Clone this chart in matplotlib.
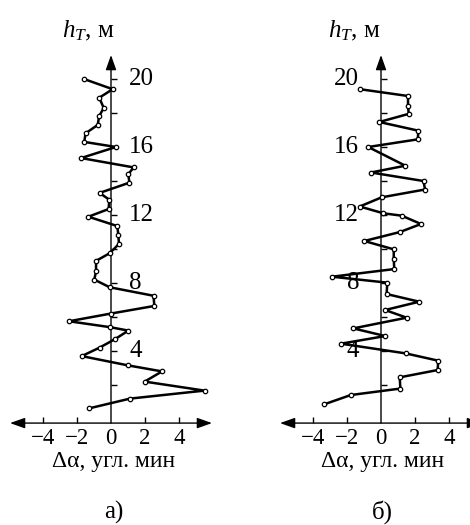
import matplotlib
matplotlib.use("Agg")
import matplotlib.pyplot as plt
from matplotlib.transforms import offset_copy

plt.rcParams['font.family'] = ['Liberation Serif', 'DejaVu Serif']
plt.rcParams['mathtext.fontset'] = 'custom'
plt.rcParams['mathtext.it'] = 'Liberation Serif:italic'
plt.rcParams['mathtext.rm'] = 'Liberation Serif'

# ---- data: panel a) ----
a_h = [20.0, 19.4, 18.9, 18.3, 17.8, 17.3, 16.8, 16.3, 16.0, 15.35, 14.8, 14.4,
       13.9, 13.3, 12.9, 12.35, 11.9, 11.35, 10.85, 10.3, 9.75, 9.3, 8.7, 8.2,
       7.75, 7.25, 6.65, 6.2, 5.75, 5.4, 5.2, 4.7, 4.2, 3.7, 3.15, 2.8, 2.2,
       1.67, 1.2, 0.63]
a_da = [-1.59, 0.1, -0.69, -0.43, -0.7, -0.78, -1.5, -1.57, 0.29, -1.76, 1.33,
        1.02, 1.08, -0.67, -0.1, -0.14, -1.33, 0.37, 0.43, 0.47, -0.08, -0.88,
        -0.88, -0.98, -0.08, 2.5, 2.55, -0.02, -2.47, -0.04, 1.02, 0.24, -0.67,
        -1.72, 1.02, 3.0, 1.98, 5.5, 1.12, -1.27]

# ---- data: panel б) ----
b_h = [19.4, 19.0, 18.4, 17.95, 17.47, 16.96, 16.45, 16.0, 14.9, 14.5, 14.0,
       13.5, 13.04, 12.5, 12.1, 11.96, 11.47, 11.0, 10.47, 9.98, 9.41, 8.82,
       8.37, 8.02, 7.35, 6.9, 6.41, 5.96, 5.33, 4.88, 4.43, 3.86, 3.43, 2.88,
       2.45, 1.79, 1.41, 0.86]
b_da = [-1.24, 1.59, 1.59, 1.63, -0.1, 2.2, 2.16, -0.75, 1.43, -0.59, 2.5,
        2.59, 0.04, -1.25, 0.14, 1.22, 2.35, 1.12, -0.98, 0.75, 0.75, 0.78,
        -2.88, 0.37, 0.33, 2.25, 0.24, 1.51, -1.63, 0.25, -2.35, 1.45, 3.37,
        3.33, 1.1, 1.14, -1.78, -3.35]

x_ticks = [-4, -2, 2, 4]
x_ticklabels = ['\u22124', '\u22122', '2', '4']
y_minor = [2, 6, 10, 14, 18]
y_major = [4, 8, 12, 16, 20]
y_label = '$h_T$, м'
x_label = 'Δα, угл. мин'
panel_labels = ['а)', 'б)']

W, H = 470, 525
fig = plt.figure(figsize=(W / 100, H / 100), dpi=100)

S = 17.0  # px per unit
XLIM = (-6, 6)
YLIM = (-1, 22)
ax_h_px = (YLIM[1] - YLIM[0]) * S
ax_w_px = (XLIM[1] - XLIM[0]) * S
zero_y_px = 419  # pixel row of y=0 (from top)
bottom_px = zero_y_px + (-YLIM[0]) * S


def make_axes(zero_x_px):
    left_px = zero_x_px - (-XLIM[0]) * S
    ax = fig.add_axes([left_px / W, (H - bottom_px) / H, ax_w_px / W, ax_h_px / H])
    ax.set_xlim(*XLIM)
    ax.set_ylim(*YLIM)
    ax.axis('off')
    ax.patch.set_alpha(0)
    return ax


def draw_panel(ax, da, h, labels_right):
    y0 = -0.24
    lw_ax = 1.0
    # x axis with arrows both ends
    ax.annotate('', xy=(-5.94, y0), xytext=(5.94, y0),
                arrowprops=dict(arrowstyle='<|-|>,head_length=0.9,head_width=0.32',
                                mutation_scale=10, lw=lw_ax, color='black',
                                shrinkA=0, shrinkB=0),
                annotation_clip=False)
    # y axis with arrow at top
    ax.annotate('', xy=(0, 21.41), xytext=(0, y0),
                arrowprops=dict(arrowstyle='-|>,head_length=0.9,head_width=0.32',
                                mutation_scale=10, lw=lw_ax, color='black',
                                shrinkA=0, shrinkB=0),
                annotation_clip=False)
    tl = 6 / S
    for t in x_ticks:
        ax.plot([t, t], [y0, y0 + tl], color='black', lw=lw_ax, solid_capstyle='butt')
    for t in y_minor + y_major:
        ax.plot([0, tl], [t, t], color='black', lw=lw_ax, solid_capstyle='butt')
    # x tick labels
    tr = offset_copy(ax.transData, fig=fig, x=0, y=-5 * 0.72, units='points')
    for t, lab in zip(x_ticks, x_ticklabels):
        ax.text(t, y0, lab, transform=tr, ha='center', va='top', fontsize=16.5)
    ax.text(0, y0, '0', transform=tr, ha='center', va='top', fontsize=16.5)
    # y tick labels
    if labels_right:
        tr2 = offset_copy(ax.transData, fig=fig, x=18 * 0.72, y=0, units='points')
        ha = 'left'
    else:
        tr2 = offset_copy(ax.transData, fig=fig, x=-22 * 0.72, y=0, units='points')
        ha = 'right'
    for t in y_major:
        ax.text(0, t, str(t), transform=tr2, ha=ha, va='center', fontsize=18)
    # data
    ax.plot(da, h, color='black', lw=1.8, marker='o', markersize=3.2,
            markerfacecolor='white', markeredgecolor='black', markeredgewidth=0.9,
            zorder=5, clip_on=False)


axA = make_axes(111)
axB = make_axes(381)
draw_panel(axA, a_da, a_h, labels_right=True)
draw_panel(axB, b_da, b_h, labels_right=False)

# texts in figure pixels
def ftext(x, y, s, **kw):
    fig.text(x / W, 1 - y / H, s, **kw)

ftext(62, 31, y_label, ha='left', va='center', fontsize=18)
ftext(328, 31, y_label, ha='left', va='center', fontsize=18)
ftext(114, 461, x_label, ha='center', va='center', fontsize=17)
ftext(383, 461, x_label, ha='center', va='center', fontsize=17)
ftext(114, 512, panel_labels[0], ha='center', va='center', fontsize=18)
ftext(382, 512, panel_labels[1], ha='center', va='center', fontsize=18)

fig.savefig('out.png', dpi=100)
